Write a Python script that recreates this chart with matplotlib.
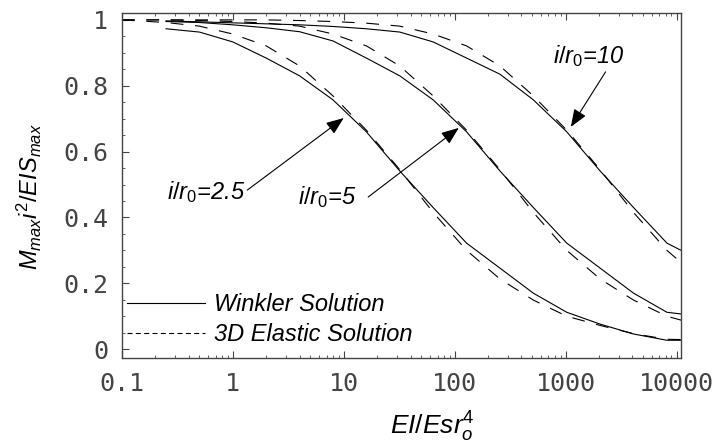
import matplotlib
matplotlib.use('Agg')
import matplotlib.pyplot as plt
from matplotlib.lines import Line2D
from matplotlib.ticker import LogLocator, MultipleLocator, FixedLocator, FixedFormatter

plt.rcParams['mathtext.fontset'] = 'custom'
plt.rcParams['mathtext.it'] = 'Liberation Sans:italic'
plt.rcParams['mathtext.rm'] = 'Liberation Sans'
plt.rcParams['mathtext.bf'] = 'Liberation Sans:bold'

# EI/(Es r0^4) sample points
x_w = [0.25, 0.5, 1, 2, 4, 8, 16, 32, 64, 128, 256, 512, 1024, 2048, 4096, 8192, 16384]
x_e = [0.1, 0.25, 0.5, 1, 2, 4, 8, 16, 32, 64, 128, 256, 512, 1024, 2048, 4096, 8192, 16384]

# Winkler solution
w_25 = [0.973, 0.963, 0.933, 0.884, 0.830, 0.757, 0.660, 0.541, 0.430, 0.322,
        0.246, 0.170, 0.112, 0.076, 0.046, 0.027, 0.027]
w_5 = [0.995, 0.992, 0.985, 0.976, 0.964, 0.936, 0.884, 0.830, 0.757, 0.660,
       0.541, 0.430, 0.322, 0.246, 0.170, 0.112, 0.100]
w_10 = [0.997, 0.994, 0.991, 0.988, 0.985, 0.980, 0.973, 0.963, 0.933, 0.884,
        0.835, 0.757, 0.660, 0.541, 0.430, 0.322, 0.270]

# 3D elastic solution
e_25 = [1.0, 0.992, 0.981, 0.957, 0.921, 0.860, 0.769, 0.665, 0.545, 0.415, 0.300,
        0.213, 0.149, 0.100, 0.072, 0.047, 0.030, 0.028]
e_5 = [1.0, 1.0, 0.998, 0.995, 0.990, 0.981, 0.957, 0.921, 0.860, 0.769, 0.665,
       0.545, 0.415, 0.300, 0.213, 0.149, 0.100, 0.072]
e_10 = [1.0, 1.0, 1.0, 1.0, 1.0, 0.998, 0.995, 0.990, 0.981, 0.957, 0.921,
        0.860, 0.769, 0.665, 0.545, 0.415, 0.300, 0.213]

xticks = [0.1, 1, 10, 100, 1000, 10000]
xtick_labels = ['0.1', '1', '10', '100', '1000', '10000']
yticks = [0, 0.2, 0.4, 0.6, 0.8, 1]
ytick_labels = ['0', '0.2', '0.4', '0.6', '0.8', '1']

fig = plt.figure(figsize=(7.17, 4.47), dpi=100)
ax = fig.add_axes([0.170, 0.199, 0.780, 0.772])

for yy in [w_25, w_5, w_10]:
    ax.plot(x_w, yy, color='black', lw=0.8)
for yy in [e_25, e_5, e_10]:
    ax.plot(x_e, yy, color='black', lw=0.8, dashes=(11.5, 10.5))

ax.set_xscale('log')
ax.set_xlim(0.1, 11000)
ax.set_ylim(-0.027, 1.021)

ax.xaxis.set_major_locator(FixedLocator(xticks))
ax.xaxis.set_major_formatter(FixedFormatter(xtick_labels))
ax.xaxis.set_minor_locator(LogLocator(base=10, subs=range(2, 10)))
ax.yaxis.set_major_locator(FixedLocator(yticks))
ax.yaxis.set_major_formatter(FixedFormatter(ytick_labels))
ax.yaxis.set_minor_locator(MultipleLocator(0.05))

ax.tick_params(which='both', direction='in', top=True, right=False, color='#444444')
ax.tick_params(which='major', length=5, width=0.8, pad=10, labelsize=18, labelcolor='#444444')
ax.tick_params(which='minor', length=2.5, width=0.6)
for lab in ax.get_xticklabels() + ax.get_yticklabels():
    lab.set_fontfamily('DejaVu Sans Mono')
for sp in ax.spines.values():
    sp.set_color('#444444')
    sp.set_linewidth(1.0)

ax.set_ylabel(r'$M_{max}i^2/EIS_{max}$', fontsize=17)
ax.yaxis.set_label_coords(-0.14, 0.467)
ax.set_xlabel(r'$EI/Esr_o^4$', fontsize=19)
ax.xaxis.set_label_coords(0.555, -0.15)

tfont = dict(family='Liberation Sans', style='italic', fontsize=17)
arrow = dict(arrowstyle='-|>,head_length=0.9,head_width=0.35', color='black', lw=0.8,
             shrinkA=0, shrinkB=0, mutation_scale=12)

ax.text(1.3, 0.455, r'$i/r_0$=2.5', ha='right', va='baseline', **tfont)
ax.annotate('', xy=(10, 0.702), xytext=(1.35, 0.483), arrowprops=arrow)
ax.text(13, 0.44, r'$i/r_0$=5', ha='right', va='baseline', **tfont)
ax.annotate('', xy=(109, 0.672), xytext=(16.6, 0.462), arrowprops=arrow)
ax.text(1620, 0.87, r'$i/r_0$=10', ha='center', va='baseline', **tfont)
ax.annotate('', xy=(1114, 0.675), xytext=(2290, 0.842), arrowprops=arrow)

handles = [Line2D([], [], color='black', lw=0.8),
           Line2D([], [], color='black', lw=0.8, dashes=(4.5, 3))]
ax.legend(handles, ['Winkler Solution', '3D Elastic Solution'], loc='lower left',
          bbox_to_anchor=(0, 0.021),
          frameon=False, prop=dict(family='Liberation Sans', style='italic', size=17),
          handlelength=3.3, handletextpad=0.4, labelspacing=0.3,
          borderaxespad=0, borderpad=0.2)

fig.savefig('out.png', dpi=100)
